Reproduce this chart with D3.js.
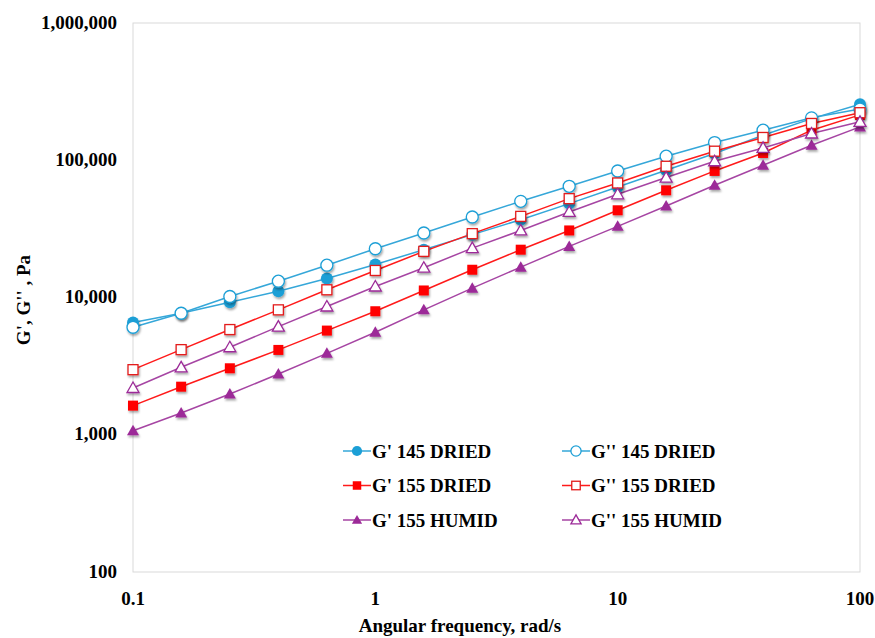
<!doctype html>
<html>
<head>
<meta charset="utf-8">
<title>G', G'' vs angular frequency</title>
<script src="https://d3js.org/d3.v7.min.js"></script>
<style>
  body { margin: 0; background: #fff; }
  svg text { font-family: "Liberation Serif", "DejaVu Serif", "Times New Roman", serif; font-weight: bold; }
</style>
</head>
<body>
<script>
// angular frequency, rad/s
var freq = [0.1, 0.158, 0.251, 0.398, 0.631, 1, 1.585, 2.512, 3.981, 6.31, 10, 15.85, 25.12, 39.81, 63.1, 100];

var g1_145d  = [6580, 7680, 9240, 11120, 13760, 17400, 22300, 28700, 36900, 48300, 63900, 84500, 112000, 152000, 201000, 256000];
var g2_145d  = [6070, 7680, 10170, 13150, 17200, 22650, 29500, 38600, 50200, 64600, 83500, 107000, 134600, 165600, 203700, 236000];
var g1_155d  = [1630, 2240, 3050, 4150, 5740, 7940, 11250, 15930, 22300, 30800, 43200, 60400, 83600, 113000, 165600, 214000];
var g2_155d  = [2980, 4170, 5840, 8130, 11380, 15740, 21680, 29200, 39000, 52500, 68300, 90400, 116400, 146500, 185300, 222000];
var g1_155h  = [1070, 1440, 1980, 2770, 3920, 5580, 8130, 11700, 16640, 23570, 33000, 46400, 65700, 92000, 128600, 175000];
var g2_155h  = [2190, 3100, 4340, 6140, 8600, 12030, 16480, 22900, 30800, 42000, 56500, 74800, 98300, 123000, 156700, 190500];

var xTicks = [0.1, 1, 10, 100];
var yTicks = [100, 1000, 10000, 100000, 1000000];

var series = [
  {name: "G' 145 DRIED",  values: g1_145d, color: "#1c9fd6", line: "#35a7d9", shape: "circle",   filled: true},
  {name: "G'' 145 DRIED", values: g2_145d, color: "#1c9fd6", line: "#35a7d9", shape: "circle",   filled: false},
  {name: "G' 155 DRIED",  values: g1_155d, color: "#ff0000", line: "#ff1a1a", shape: "square",   filled: true},
  {name: "G'' 155 DRIED", values: g2_155d, color: "#e31b1b", line: "#ff1a1a", shape: "square",   filled: false},
  {name: "G' 155 HUMID",  values: g1_155h, color: "#9c2a98", line: "#a645a3", shape: "triangle", filled: true},
  {name: "G'' 155 HUMID", values: g2_155h, color: "#9c2a98", line: "#a645a3", shape: "triangle", filled: false}
];

var width = 875, height = 638,
    margin = {top: 23, right: 15, bottom: 66, left: 133},
    plotW = width - margin.left - margin.right,
    plotH = height - margin.top - margin.bottom;

var svg = d3.select("body").append("svg")
    .attr("width", width)
    .attr("height", height)
    .attr("font-family", "'Liberation Serif', 'DejaVu Serif', serif")
    .attr("font-weight", "bold");

var defs = svg.append("defs");
defs.append("filter").attr("id", "shadow")
    .attr("x", "-50%").attr("y", "-50%").attr("width", "200%").attr("height", "200%")
  .append("feDropShadow")
    .attr("dx", 1).attr("dy", 2).attr("stdDeviation", 1.2)
    .attr("flood-color", "#000").attr("flood-opacity", 0.35);

var x = d3.scaleLog().domain([0.1, 100]).range([0, plotW]);
var y = d3.scaleLog().domain([100, 1000000]).range([plotH, 0]);

var plot = svg.append("g")
    .attr("transform", "translate(" + margin.left + "," + margin.top + ")");

// frame
plot.append("rect")
    .attr("x", 0).attr("y", 0)
    .attr("width", plotW).attr("height", plotH)
    .attr("fill", "none")
    .attr("stroke", "#d9d9d9")
    .attr("stroke-width", 1);

// y tick labels
var fmt = d3.format(",");
plot.selectAll(".ylab")
    .data(yTicks)
  .enter().append("text")
    .attr("x", -16)
    .attr("y", function(d) { return y(d); })
    .attr("dy", "0.3em")
    .attr("text-anchor", "end")
    .attr("font-size", "19px")
    .text(function(d) { return fmt(d); });

// x tick labels
plot.selectAll(".xlab")
    .data(xTicks)
  .enter().append("text")
    .attr("x", function(d) { return x(d); })
    .attr("y", plotH + 33)
    .attr("text-anchor", "middle")
    .attr("font-size", "19px")
    .text(function(d) { return d; });

// axis titles
svg.append("text")
    .attr("x", 460)
    .attr("y", 632)
    .attr("text-anchor", "middle")
    .attr("font-size", "19px")
    .text("Angular frequency, rad/s");

svg.append("text")
    .attr("transform", "translate(30,300) rotate(-90)")
    .attr("text-anchor", "middle")
    .attr("font-size", "19px")
    .text("G', G'' , Pa");

function drawMarker(g, s, cx, cy, scale) {
  scale = scale || 1;
  var m;
  if (s.shape === "circle") {
    m = g.append("circle").attr("cx", cx).attr("cy", cy).attr("r", 6 * scale);
  } else if (s.shape === "square") {
    var h = 5 * scale;
    m = g.append("rect").attr("x", cx - h).attr("y", cy - h).attr("width", 2 * h).attr("height", 2 * h);
  } else {
    var t = 6 * scale;
    m = g.append("path").attr("d", "M" + cx + "," + (cy - t) + "L" + (cx + t) + "," + (cy + t * 0.75) + "L" + (cx - t) + "," + (cy + t * 0.75) + "Z");
  }
  m.attr("fill", s.filled ? s.color : "#fff")
   .attr("stroke", s.color)
   .attr("stroke-width", s.filled ? 0 : 1.3);
  return m;
}

var line = d3.line()
    .x(function(d, i) { return x(freq[i]); })
    .y(function(d) { return y(d); });

// lines first, then markers
series.forEach(function(s) {
  plot.append("path")
      .datum(s.values)
      .attr("d", line)
      .attr("fill", "none")
      .attr("stroke", s.line)
      .attr("stroke-width", 1.5);
});

series.forEach(function(s) {
  var g = plot.append("g").attr("filter", "url(#shadow)");
  s.values.forEach(function(v, i) {
    drawMarker(g, s, x(freq[i]), y(v));
  });
});

// legend
var legend = svg.append("g");
series.forEach(function(s, i) {
  var col = i % 2, row = Math.floor(i / 2);
  var lx = col === 0 ? 343 : 562,
      ly = 451 + row * 34.5;
  var item = legend.append("g");
  item.append("line")
      .attr("x1", lx).attr("x2", lx + 28)
      .attr("y1", ly).attr("y2", ly)
      .attr("stroke", s.line)
      .attr("stroke-width", 1.5);
  drawMarker(item, s, lx + 14, ly, 0.85);
  item.append("text")
      .attr("x", lx + 29)
      .attr("y", ly)
      .attr("dy", "0.35em")
      .attr("font-size", "19px")
      .text(s.name);
});
</script>
</body>
</html>
